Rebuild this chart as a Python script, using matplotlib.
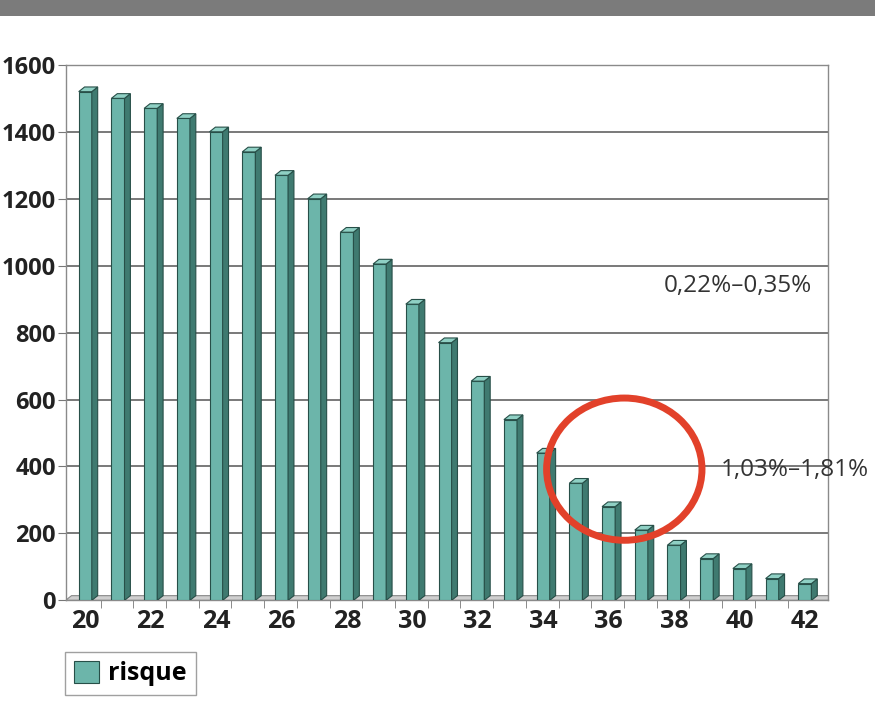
import matplotlib
matplotlib.use("Agg")
import matplotlib.pyplot as plt
from matplotlib.patches import Polygon, Rectangle, Ellipse

plt.rcParams['font.family'] = ['Open Sans', 'DejaVu Sans']

# donnees
ages = list(range(20, 43))
risque = [1520, 1500, 1470, 1440, 1400, 1340, 1270, 1200, 1100, 1005, 885, 770,
          655, 540, 440, 350, 280, 210, 165, 125, 95, 65, 50]
yticks = [0, 200, 400, 600, 800, 1000, 1200, 1400, 1600]
xlabels = [20, 22, 24, 26, 28, 30, 32, 34, 36, 38, 40, 42]
note_haut = "0,22%–0,35%"
note_bas = "1,03%–1,81%"

front = '#6cb5aa'
side = '#3f7a70'
top = '#8fd0c4'
edge = '#274f48'

fig = plt.figure(figsize=(8.75, 7.13), dpi=100)
ax = fig.add_axes([0.075, 0.158, 0.871, 0.751])

# bandeau gris en haut
fig.patches.append(Rectangle((0, 1 - 16 / 713), 1, 16 / 713, transform=fig.transFigure,
                             facecolor='#7b7b7b', edgecolor='none'))

w = 0.2    # demi largeur
dx = 0.18  # profondeur
dy = 14

for yv in yticks[1:-1]:
    ax.plot([19.45, 42.75], [yv, yv], color='#555555', lw=1.1, zorder=1)

# sol
ax.add_patch(Polygon([[19.4, 0], [42.7, 0], [42.7 + dx, dy], [19.4 + dx, dy]],
                     closed=True, facecolor='#cfcfcf', edgecolor='#888888', lw=0.8, zorder=2))

for a, v in zip(ages, risque):
    ax.add_patch(Rectangle((a - w, 0), 2 * w, v, facecolor=front, edgecolor=edge, lw=0.8, zorder=3))
    ax.add_patch(Polygon([[a + w, 0], [a + w + dx, dy], [a + w + dx, v + dy], [a + w, v]],
                         closed=True, facecolor=side, edgecolor=edge, lw=0.8, zorder=3))
    ax.add_patch(Polygon([[a - w, v], [a + w, v], [a + w + dx, v + dy], [a - w + dx, v + dy]],
                         closed=True, facecolor=top, edgecolor=edge, lw=0.8, zorder=3))

ax.set_xlim(19.4, 42.7)
ax.set_ylim(0, 1600)
ax.set_yticks(yticks)
ax.set_yticklabels([str(t) for t in yticks], fontsize=17, fontweight='bold', color='#222222')
ax.set_xticks(xlabels)
ax.set_xticklabels([str(t) for t in xlabels], fontsize=18, fontweight='bold', color='#222222')
ax.set_xticks([a + 0.47 for a in ages[:-1]], minor=True)
ax.tick_params(axis='x', which='major', length=0, pad=6)
ax.tick_params(axis='x', which='minor', length=6, color='#777777', direction='out')
ax.tick_params(axis='y', length=6, color='#777777', pad=1)
for s in ax.spines.values():
    s.set_color('#8a8a8a')
    s.set_linewidth(1)

ax.text(39.95, 940, note_haut, fontsize=17.5, color='#333333', ha='center', va='center')
ax.text(41.68, 390, note_bas, fontsize=17.5, color='#333333', ha='center', va='center', clip_on=False)

ax.add_patch(Ellipse((36.48, 392), 4.75, 425, facecolor='none', edgecolor='#e2412a', lw=5,
                     zorder=5, clip_on=False))

h = Rectangle((0, 0), 1, 1, facecolor=front, edgecolor=edge, lw=0.8)
leg = fig.legend([h], ['risque'], loc='lower left', bbox_to_anchor=(0.074, 0.025),
                 prop={'size': 18, 'weight': 'bold'}, fancybox=False, frameon=True,
                 handlelength=1.0, handleheight=1.0, borderpad=0.35, handletextpad=0.4,
                 borderaxespad=0)
leg.get_frame().set_edgecolor('#888888')
leg.get_frame().set_linewidth(1)

fig.savefig('out.png', dpi=100)
